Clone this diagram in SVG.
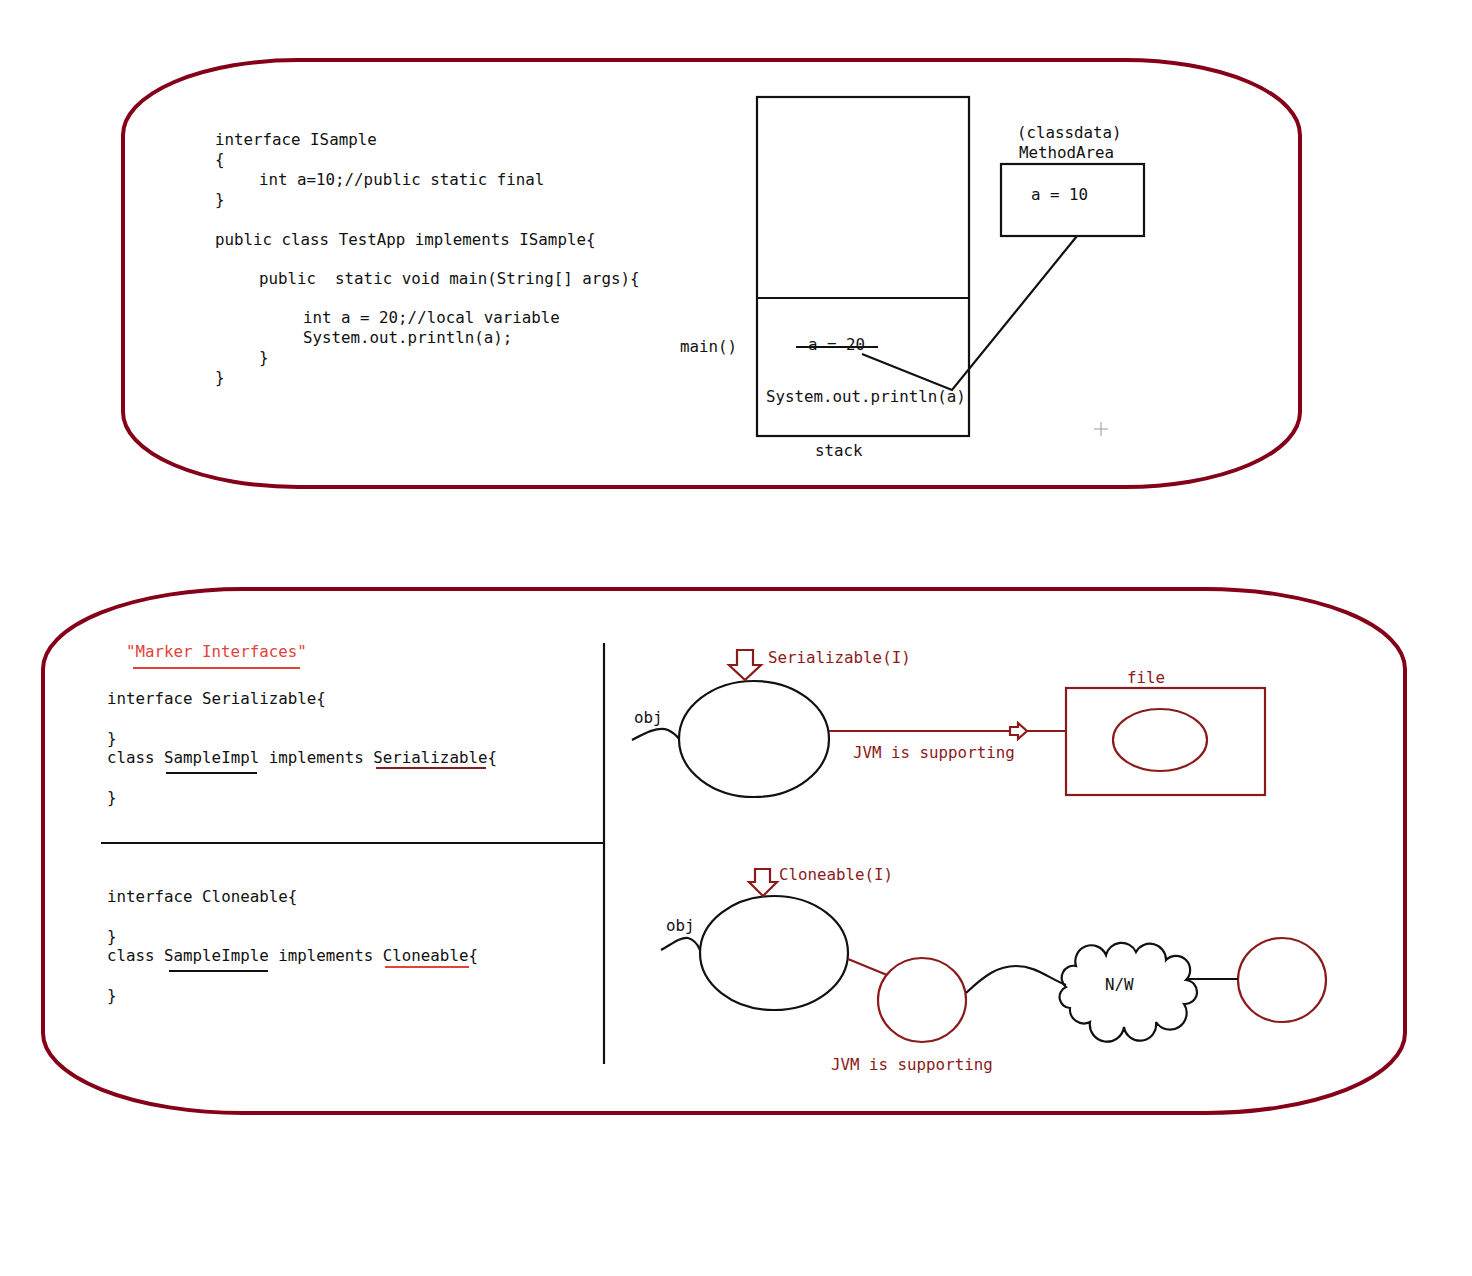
<svg xmlns="http://www.w3.org/2000/svg" width="1472" height="1276" viewBox="0 0 1472 1276">
<style>
text{font-family:"DejaVu Sans Mono","Liberation Mono",monospace;font-size:15.8px;fill:#111}
.r{fill:#8b1a1a}
.br{fill:#e0433a}
.frame{fill:none;stroke:#850019;stroke-width:4}
.k{fill:none;stroke:#111;stroke-width:2.2}
.kr{fill:none;stroke:#8b1a1a;stroke-width:2.2}
</style>
<rect width="1472" height="1276" fill="#fff"/>
<g id="panel-top">
<rect class="frame" x="123" y="60" width="1177" height="427" rx="175" ry="75"/>
<g id="code-top">
<text x="215" y="145">interface ISample</text>
<text x="215" y="165">{</text>
<text x="259" y="185">int a=10;//public static final</text>
<text x="215" y="205">}</text>
<text x="215" y="245">public class TestApp implements ISample{</text>
<text x="259" y="284" xml:space="preserve">public  static void main(String[] args){</text>
<text x="303" y="323">int a = 20;//local variable</text>
<text x="303" y="343">System.out.println(a);</text>
<text x="259" y="363">}</text>
<text x="215" y="383">}</text>
</g>
<g id="stack">
<rect class="k" x="757" y="97" width="212" height="339"/>
<line class="k" x1="757" y1="298" x2="969" y2="298"/>
<text x="680" y="352">main()</text>
<text x="808" y="350">a = 20</text>
<line class="k" x1="796" y1="347" x2="878" y2="347"/>
<text x="766" y="402">System.out.println(a)</text>
<text x="815" y="456">stack</text>
</g>
<g id="method-area">
<text x="1017" y="138">(classdata)</text>
<text x="1019" y="158">MethodArea</text>
<rect class="k" x="1001" y="164" width="143" height="72"/>
<text x="1031" y="200">a = 10</text>
</g>
<g id="cursor">
<line x1="1094" y1="429" x2="1108" y2="429" stroke="#999" stroke-width="1"/>
<line x1="1101" y1="422" x2="1101" y2="436" stroke="#999" stroke-width="1"/>
</g>
</g>
<g id="connectors-top">
<polyline class="k" points="862,354 952,390 1077,236"/>
</g>
<g id="panel-bottom">
<rect class="frame" x="43" y="589" width="1362" height="524" rx="200" ry="80"/>
<line class="k" x1="604" y1="643" x2="604" y2="1064"/>
<line class="k" x1="101" y1="843" x2="604" y2="843"/>
<g id="code-serializable">
<text class="br" x="126" y="657">"Marker Interfaces"</text>
<line x1="133" y1="668" x2="300" y2="668" stroke="#e0433a" stroke-width="2"/>
<text x="107" y="704">interface Serializable{</text>
<text x="107" y="744">}</text>
<text x="107" y="763">class SampleImpl implements Serializable{</text>
<line x1="166" y1="773" x2="257" y2="773" stroke="#111" stroke-width="2"/>
<line x1="376" y1="768" x2="486" y2="768" stroke="#8b1a1a" stroke-width="2"/>
<text x="107" y="803">}</text>
</g>
<g id="code-cloneable">
<text x="107" y="902">interface Cloneable{</text>
<text x="107" y="942">}</text>
<text x="107" y="961">class SampleImple implements Cloneable{</text>
<line x1="169" y1="971" x2="268" y2="971" stroke="#111" stroke-width="2"/>
<line x1="385" y1="967" x2="469" y2="967" stroke="#e0433a" stroke-width="2"/>
<text x="107" y="1001">}</text>
</g>
<g id="obj1">
<ellipse class="k" cx="754" cy="739" rx="75" ry="58"/>
<text x="634" y="723">obj</text>
<text class="r" x="768" y="663">Serializable(I)</text>
<polygon class="kr" points="737,650 753,650 753,665 761,665 745,680 729,665 737,665"/>
</g>
<g id="file">
<text class="r" x="1127" y="683">file</text>
<rect class="kr" x="1066" y="688" width="199" height="107"/>
<ellipse class="kr" cx="1160" cy="740" rx="47" ry="31"/>
</g>
<g id="obj2">
<ellipse class="k" cx="774" cy="953" rx="74" ry="57"/>
<text x="666" y="931">obj</text>
<text class="r" x="779" y="880">Cloneable(I)</text>
<polygon class="kr" points="755,869 770,869 770,882 777,882 763,896 749,882 755,882"/>
</g>
<g id="clone">
<ellipse class="kr" cx="922" cy="1000" rx="44" ry="42"/>
<text class="r" x="831" y="1070">JVM is supporting</text>
</g>
<g id="network">
<path class="k" d="M1066,987 A12,12 0 0 1 1076,966 A16,16 0 0 1 1106,955 A16,16 0 0 1 1136,952 A16,16 0 0 1 1166,960 A14,14 0 0 1 1186,980 A12,12 0 0 1 1184,1004 A16,16 0 0 1 1156,1022 A16,16 0 0 1 1124,1027 A16,16 0 0 1 1090,1022 A14,14 0 0 1 1070,1008 A11,11 0 0 1 1066,987 Z"/>
<text x="1105" y="990">N/W</text>
</g>
<g id="remote">
<ellipse class="kr" cx="1282" cy="980" rx="44" ry="42"/>
</g>
</g>
<g id="connectors">
<path class="k" d="M632,740 C645,733 658,726 668,730 C674,733 677,736 679,739"/>
<line class="kr" x1="829" y1="731" x2="1010" y2="731"/>
<polygon class="kr" points="1010,727 1018,727 1018,723 1027,731 1018,739 1018,735 1010,735"/>
<line class="kr" x1="1027" y1="731" x2="1066" y2="731"/>
<text class="r" x="853" y="758">JVM is supporting</text>
<path class="k" d="M661,950 C672,944 680,937 688,938 C695,940 698,945 700,950"/>
<line class="kr" x1="848" y1="959" x2="887" y2="975"/>
<path class="k" d="M966,993 C985,975 998,966 1016,966 C1036,966 1048,978 1066,985"/>
<line class="k" x1="1186" y1="979" x2="1238" y2="979"/>
</g>
</svg>
